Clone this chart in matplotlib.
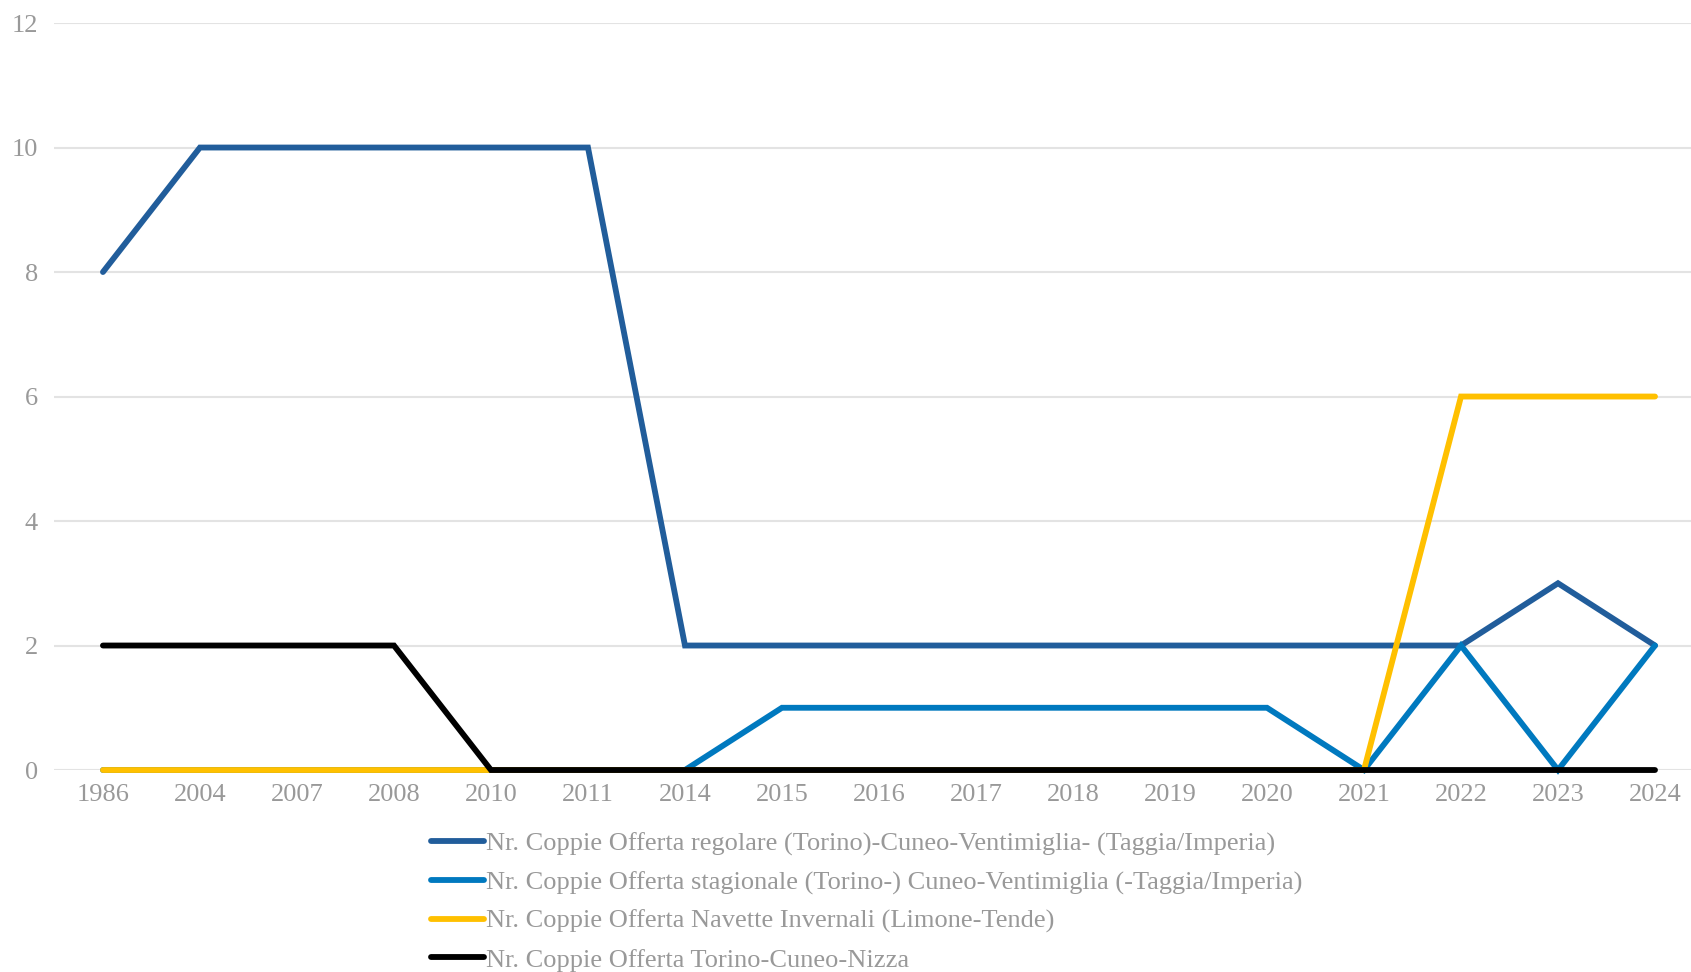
import numpy as np
import matplotlib.pyplot as plt

years = ['1986', '2004', '2007', '2008', '2010', '2011', '2014', '2015', '2016',
         '2017', '2018', '2019', '2020', '2021', '2022', '2023', '2024']
regolare = [8, 10, 10, 10, 10, 10, 2, 2, 2, 2, 2, 2, 2, 2, 2, 3, 2]
stagionale = [0, 0, 0, 0, 0, 0, 0, 1, 1, 1, 1, 1, 1, 0, 2, 0, 2]
navette = [0, 0, 0, 0, 0, 0, 0, 0, 0, 0, 0, 0, 0, 0, 6, 6, 6]
nizza = [2, 2, 2, 2, 0, 0, 0, 0, 0, 0, 0, 0, 0, 0, 0, 0, 0]

labels = [
    'Nr. Coppie Offerta regolare (Torino)-Cuneo-Ventimiglia- (Taggia/Imperia)',
    'Nr. Coppie Offerta stagionale (Torino-) Cuneo-Ventimiglia (-Taggia/Imperia)',
    'Nr. Coppie Offerta Navette Invernali (Limone-Tende)',
    'Nr. Coppie Offerta Torino-Cuneo-Nizza',
]
colors = ['#215d9b', '#0079bf', '#ffc000', '#000000']

fig = plt.figure(figsize=(16.91, 9.72), dpi=100)
ax = fig.add_axes([0.0322, 0.2078, 0.9752, 0.7685])

x = np.arange(len(years))
for vals, lab, col in zip([regolare, stagionale, navette, nizza], labels, colors):
    ax.plot(x, vals, color=col, lw=4.2, label=lab, solid_capstyle='round',
            solid_joinstyle='miter', clip_on=False)

ax.set_xlim(-0.5, len(years) - 0.5)
ax.set_ylim(0, 12)
ax.set_yticks(range(0, 13, 2))
ax.set_xticks(x)
ax.set_xticklabels(years)
ax.grid(axis='y', color='#e3e3e3', lw=1.5)
ax.set_axisbelow(True)
for s in ax.spines.values():
    s.set_visible(False)
ax.tick_params(length=0, labelcolor='#999999', labelsize=19)
ax.tick_params(axis='y', pad=12)
ax.tick_params(axis='x', pad=10)
for t in ax.get_xticklabels() + ax.get_yticklabels():
    t.set_family('Liberation Serif')

leg = fig.legend(loc='upper left', bbox_to_anchor=(0.2549, 0.144), frameon=False,
                 borderpad=0, borderaxespad=0, handlelength=2.0, handletextpad=0.1,
                 labelspacing=0.56, prop={'family': 'Liberation Serif', 'size': 19})
for t in leg.get_texts():
    t.set_color('#999999')

fig.savefig('out.png', dpi=100)
